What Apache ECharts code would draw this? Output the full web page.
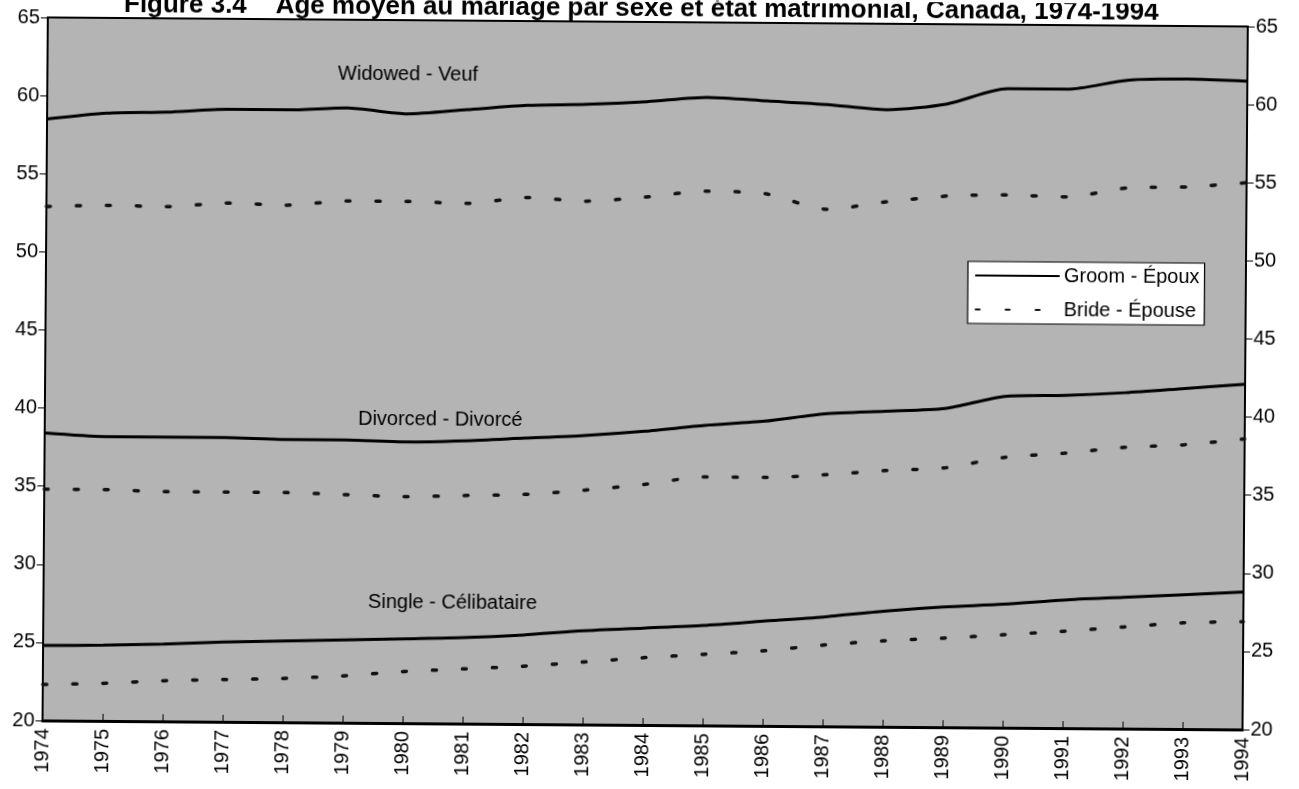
<!DOCTYPE html>
<html><head><meta charset="utf-8">
<script src="https://cdn.jsdelivr.net/npm/echarts@6/dist/echarts.min.js"></script>
<style>
html,body{margin:0;padding:0;background:#fff;overflow:hidden;}
#chart{width:1299px;height:789px;transform:rotate(0.432deg);transform-origin:50% 50%;}
</style></head>
<body><div id="chart"></div>
<script>
const years = ['1974','1975','1976','1977','1978','1979','1980','1981','1982','1983','1984','1985','1986','1987','1988','1989','1990','1991','1992','1993','1994'];
const widowedGroom = [58.5,58.9,59.0,59.2,59.2,59.35,59.0,59.3,59.6,59.7,59.9,60.2,60.0,59.8,59.5,59.9,60.9,60.9,61.5,61.6,61.5];
const widowedBride = [52.9,53.0,52.95,53.2,53.1,53.4,53.4,53.3,53.7,53.5,53.8,54.2,54.05,53.1,53.6,54.0,54.1,54.0,54.6,54.7,55.0];
const divorcedGroom = [38.4,38.2,38.2,38.2,38.1,38.1,38.0,38.1,38.3,38.5,38.8,39.2,39.5,40.0,40.2,40.4,41.2,41.3,41.5,41.8,42.1];
const divorcedBride = [34.8,34.8,34.7,34.7,34.7,34.6,34.5,34.6,34.7,35.0,35.4,35.9,35.9,36.1,36.4,36.6,37.3,37.6,38.0,38.2,38.6];
const singleGroom = [24.8,24.85,24.95,25.1,25.2,25.3,25.4,25.5,25.7,26.0,26.2,26.4,26.7,27.0,27.4,27.7,27.9,28.2,28.4,28.6,28.8];
const singleBride = [22.3,22.4,22.6,22.7,22.8,23.0,23.3,23.5,23.7,24.0,24.3,24.55,24.8,25.2,25.5,25.7,25.95,26.2,26.5,26.8,26.9];
const groomName = 'Groom - Époux';
const brideName = 'Bride - Épouse';
const titleText = 'Figure 3.4    Âge moyen au mariage par sexe et état matrimonial, Canada, 1974-1994';
const groupLabels = ['Widowed - Veuf','Divorced - Divorcé','Single - Célibataire'];

const FONT = '"Liberation Sans", Arial, sans-serif';
const chart = echarts.init(document.getElementById('chart'), null, {renderer:'canvas'});

function groom(data){
  return {name: groomName, type:'line', data, symbol:'none', smooth:0.25,
    lineStyle:{color:'#000', width:3}, itemStyle:{color:'#000'}, z:3};
}
function bride(data){
  return {name: brideName, type:'line', data, symbol:'none', smooth:0.25,
    lineStyle:{color:'#111', width:3.5, type:[4,26], cap:'round'}, itemStyle:{color:'#111'}, z:3};
}
const yLabel = {fontSize:20, color:'#000', fontFamily:FONT, margin:8};

chart.setOption({
  animation:false,
  backgroundColor:'#fff',
  title:{text:titleText, left:116, top:-10,
    textStyle:{fontSize:26, fontWeight:'bold', color:'#000', fontFamily:FONT, lineHeight:27}},
  grid:{left:45, right:54, top:22, bottom:64, show:true,
    backgroundColor:'#b4b4b4', borderColor:'#000', borderWidth:2},
  legend:{data:[groomName, brideName], orient:'vertical', left:967, top:259,
    backgroundColor:'#fff', borderColor:'#000', borderWidth:1.2, padding:[2,5,2,7],
    itemWidth:83, itemHeight:14, itemGap:10, selectedMode:false,
    itemStyle:{opacity:0, color:'rgba(0,0,0,0)', borderWidth:0},
    lineStyle:{cap:'round'},
    textStyle:{fontSize:20, color:'#000', fontFamily:FONT, lineHeight:24}},
  xAxis:{type:'category', data:years, boundaryGap:false,
    axisLine:{lineStyle:{color:'#000', width:3}},
    axisTick:{inside:true, length:7, lineStyle:{color:'#000', width:1}},
    axisLabel:{rotate:90, interval:0, fontSize:20, color:'#000', fontFamily:FONT, margin:8},
    splitLine:{show:false}},
  yAxis:[
    {type:'value', min:20, max:65, interval:5, position:'left',
     axisLine:{show:true, lineStyle:{color:'#000', width:1.5}},
     axisTick:{show:true, length:7, lineStyle:{color:'#000'}},
     axisLabel:yLabel, splitLine:{show:false}},
    {type:'value', min:20, max:65, interval:5, position:'right',
     axisLine:{show:true, lineStyle:{color:'#000', width:1.5}},
     axisTick:{show:true, length:7, lineStyle:{color:'#000'}},
     axisLabel:yLabel, splitLine:{show:false}}
  ],
  graphic:[
    {type:'text', x:335.6, y:76.8, z:10, style:{text:groupLabels[0], font:'20px '+FONT, fill:'#000', verticalAlign:'middle'}},
    {type:'text', x:358.2, y:421.6, z:10, style:{text:groupLabels[1], font:'20px '+FONT, fill:'#000', verticalAlign:'middle'}},
    {type:'text', x:369.6, y:604.5, z:10, style:{text:groupLabels[2], font:'20px '+FONT, fill:'#000', verticalAlign:'middle'}}
  ],
  series:[
    groom(widowedGroom), bride(widowedBride),
    groom(divorcedGroom), bride(divorcedBride),
    groom(singleGroom), bride(singleBride)
  ]
});
</script>
</body></html>
